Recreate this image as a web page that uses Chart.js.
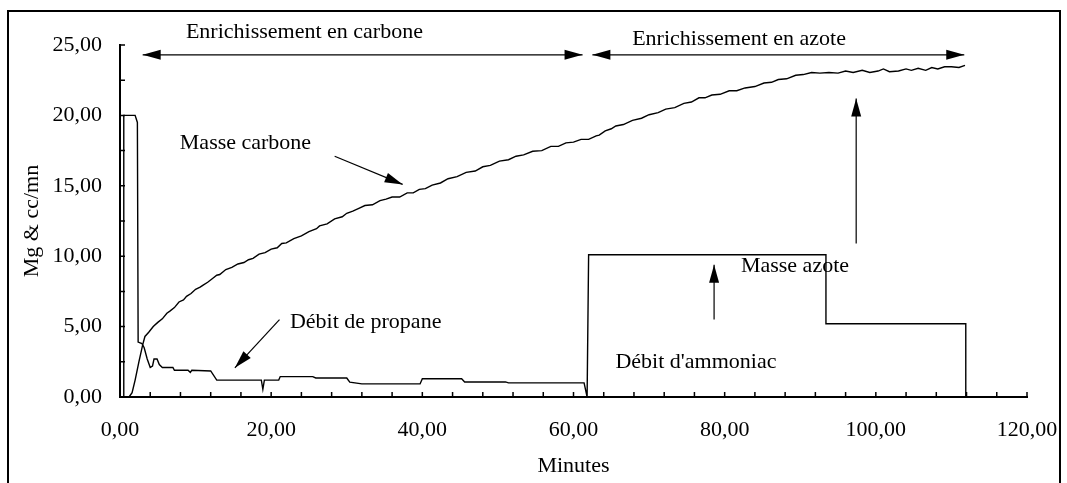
<!DOCTYPE html>
<html>
<head>
<meta charset="utf-8">
<script src="https://cdn.jsdelivr.net/npm/chart.js@4/dist/chart.umd.min.js"></script>
<style>
  html, body { margin: 0; padding: 0; background: #fff; }
  #wrap { width: 1067px; height: 483px; }
</style>
</head>
<body>
<div id="wrap"><canvas id="chart"></canvas></div>
<script>
// Masse carbone (mg) vs minutes
const carbonX = [1.2, 1.6, 2.0, 2.5, 3.0, 3.3, 3.8, 4.4, 5.0, 5.6, 6.2, 6.6, 7.2, 7.8, 8.4, 8.8, 9.4, 10.0, 10.6, 11.0,
  11.6, 12.2, 12.8, 13.2, 14.0, 14.8, 15.6, 16.4, 17.0, 17.6, 18.4, 19.2, 20.0, 20.8, 21.4, 22.0, 23.0, 24.0, 25.0, 26.0,
  26.4, 27.4, 28.4, 29.4, 30.0, 30.8, 31.6, 32.4, 33.4, 34.4, 35.2, 36.0, 37.0, 38.0, 38.8, 39.6, 40.4, 41.3, 42.4, 43.4,
  44.6, 45.8, 47.0, 48.0, 49.0, 50.2, 51.4, 52.4, 53.4, 54.6, 55.8, 57.0, 58.0, 59.0, 60.0, 61.0, 62.0, 63.0, 63.4, 64.2,
  65.0, 65.6, 66.6, 67.8, 69.0, 70.0, 71.2, 72.2, 73.4, 74.6, 75.6, 76.6, 77.4, 78.3, 79.4, 80.6, 81.6, 82.7, 84.0, 85.2,
  86.2, 87.1, 88.2, 89.4, 90.4, 91.5, 92.6, 93.8, 95.0, 96.0, 97.0, 98.2, 99.2, 100.3, 101.0, 101.8, 103.0, 104.0, 104.7, 105.6,
  106.6, 107.4, 108.2, 109.1, 110.0, 111.0, 111.8];
const carbonY = [0, 0.3, 1.2, 2.5, 3.7, 4.3, 4.6, 5.0, 5.3, 5.55, 5.95, 6.1, 6.35, 6.75, 6.9, 7.15, 7.35, 7.65, 7.8, 7.95,
  8.15, 8.4, 8.65, 8.7, 9.05, 9.2, 9.45, 9.55, 9.75, 9.85, 10.15, 10.25, 10.5, 10.6, 10.9, 10.95, 11.25, 11.45, 11.75, 11.95,
  12.15, 12.3, 12.65, 12.8, 13.05, 13.2, 13.4, 13.6, 13.65, 13.95, 14.05, 14.2, 14.2, 14.5, 14.5, 14.75, 14.8, 15.05, 15.2, 15.5,
  15.65, 15.95, 16.05, 16.35, 16.45, 16.75, 16.85, 17.1, 17.2, 17.45, 17.5, 17.8, 17.8, 18.05, 18.1, 18.3, 18.3, 18.55, 18.6, 18.9,
  19.05, 19.25, 19.35, 19.65, 19.8, 20.05, 20.2, 20.45, 20.55, 20.85, 20.95, 21.25, 21.25, 21.45, 21.5, 21.75, 21.75, 21.95, 22.05, 22.3,
  22.35, 22.55, 22.6, 22.85, 22.9, 23.05, 23.0, 23.05, 23.0, 23.15, 23.05, 23.2, 23.05, 23.15, 23.3, 23.1, 23.15, 23.3, 23.2, 23.35,
  23.2, 23.4, 23.3, 23.45, 23.45, 23.4, 23.55];

// Débit de propane puis débit d'ammoniac (cc/mn) vs minutes
const debitX = [0.4, 0.5, 2.0, 2.3, 2.4, 2.9, 3.2, 3.6, 4.0, 4.3, 4.5, 4.9, 5.2, 5.6, 7.0, 7.2, 9.0, 9.3, 9.5, 12.0,
  12.8, 18.7, 18.9, 19.1, 21.0, 21.2, 25.5, 25.9, 30.0, 30.4, 32.0, 39.7, 40.0, 45.2, 45.6, 51.0, 51.4, 61.4, 61.8, 62.0,
  93.4, 93.4, 111.9, 111.9];
const debitY = [0, 20, 20, 19.5, 3.9, 3.8, 3.5, 2.7, 2.1, 2.2, 2.7, 2.7, 2.3, 2.1, 2.1, 1.9, 1.9, 1.75, 1.9, 1.85,
  1.2, 1.2, 0.55, 1.2, 1.2, 1.45, 1.45, 1.35, 1.35, 1.05, 0.93, 0.93, 1.3, 1.3, 1.07, 1.07, 1.0, 1.0, 0, 10.1,
  10.1, 5.2, 5.2, 0];

const xMin = 0, xMax = 120, xStep = 20, xMinor = 4;
const yMin = 0, yMax = 25, yStep = 5, yMinor = 2.5;

// annotation texts and arrows, in data units
const labels = [
  { text: 'Enrichissement en carbone', x: 24.4, y: 25.9 },
  { text: 'Enrichissement en azote', x: 81.9, y: 25.4 },
  { text: 'Masse carbone', x: 16.6, y: 18.0 },
  { text: 'Débit de propane', x: 32.5, y: 5.3 },
  { text: "Débit d'ammoniac", x: 76.2, y: 2.5 },
  { text: 'Masse azote', x: 89.3, y: 9.3 }
];
const arrows = [
  { x1: 28.4, y1: 17.1, x2: 37.4, y2: 15.1, both: false },
  { x1: 21.1, y1: 5.5, x2: 15.2, y2: 2.07, both: false },
  { x1: 97.4, y1: 10.9, x2: 97.4, y2: 21.2, both: false },
  { x1: 78.6, y1: 5.5, x2: 78.6, y2: 9.4, both: false },
  { x1: 3.0, y1: 24.3, x2: 61.2, y2: 24.3, both: true },
  { x1: 62.5, y1: 24.3, x2: 111.7, y2: 24.3, both: true }
];

const FONT = '"Liberation Serif", "Times New Roman", serif';
const fmt = v => v.toFixed(2).replace('.', ',');

function head(ctx, x1, y1, x2, y2) {
  const a = Math.atan2(y2 - y1, x2 - x1), L = 18, W = 5;
  ctx.beginPath();
  ctx.moveTo(x2, y2);
  ctx.lineTo(x2 - L * Math.cos(a) + W * Math.sin(a), y2 - L * Math.sin(a) - W * Math.cos(a));
  ctx.lineTo(x2 - L * Math.cos(a) - W * Math.sin(a), y2 - L * Math.sin(a) + W * Math.cos(a));
  ctx.closePath();
  ctx.fill();
}

const decor = {
  id: 'decor',
  beforeDraw(chart) {
    const ctx = chart.ctx;
    ctx.save();
    ctx.fillStyle = '#fff';
    ctx.fillRect(0, 0, chart.width, chart.height);
    ctx.strokeStyle = '#000';
    ctx.lineWidth = 2;
    ctx.strokeRect(8, 11, 1052, 480);
    ctx.restore();
  },
  afterDraw(chart) {
    const ctx = chart.ctx, xs = chart.scales.x, ys = chart.scales.y;
    const a = chart.chartArea;
    ctx.save();
    ctx.strokeStyle = '#000';
    ctx.fillStyle = '#000';
    ctx.lineWidth = 1.5;
    // inward tick marks
    ctx.beginPath();
    for (let v = xMin; v <= xMax + 0.001; v += xMinor) {
      const px = xs.getPixelForValue(v);
      ctx.moveTo(px, a.bottom);
      ctx.lineTo(px, a.bottom - 5);
    }
    for (let v = yMin; v <= yMax + 0.001; v += yMinor) {
      const py = ys.getPixelForValue(v);
      ctx.moveTo(a.left, py);
      ctx.lineTo(a.left + 5, py);
    }
    ctx.stroke();
    // arrows
    ctx.lineWidth = 1.2;
    arrows.forEach(r => {
      const x1 = xs.getPixelForValue(r.x1), y1 = ys.getPixelForValue(r.y1);
      const x2 = xs.getPixelForValue(r.x2), y2 = ys.getPixelForValue(r.y2);
      ctx.beginPath();
      ctx.moveTo(x1, y1);
      ctx.lineTo(x2, y2);
      ctx.stroke();
      head(ctx, x1, y1, x2, y2);
      if (r.both) head(ctx, x2, y2, x1, y1);
    });
    // texts
    ctx.font = '22px ' + FONT;
    ctx.textAlign = 'center';
    ctx.textBaseline = 'middle';
    labels.forEach(l => {
      ctx.fillText(l.text, xs.getPixelForValue(l.x), ys.getPixelForValue(l.y));
    });
    ctx.restore();
  }
};

const ctx = document.getElementById('chart').getContext('2d');
new Chart(ctx, {
  type: 'scatter',
  data: {
    datasets: [
      {
        label: 'Masse carbone',
        data: carbonX.map((x, i) => ({ x: x, y: carbonY[i] })),
        showLine: true,
        borderColor: '#000',
        borderWidth: 1.4,
        pointRadius: 0,
        tension: 0
      },
      {
        label: 'Débit',
        data: debitX.map((x, i) => ({ x: x, y: debitY[i] })),
        showLine: true,
        borderColor: '#000',
        borderWidth: 1.4,
        pointRadius: 0,
        tension: 0
      }
    ]
  },
  options: {
    responsive: true,
    maintainAspectRatio: false,
    animation: false,
    layout: { padding: { left: 10, top: 45, right: 40, bottom: 0 } },
    plugins: {
      legend: { display: false },
      tooltip: { enabled: false }
    },
    scales: {
      x: {
        type: 'linear',
        min: xMin,
        max: xMax,
        ticks: {
          stepSize: xStep,
          color: '#000',
          font: { family: FONT, size: 22 },
          padding: 20,
          maxRotation: 0,
          callback: v => fmt(v)
        },
        grid: { display: false, drawTicks: false },
        border: { display: true, color: '#000', width: 2 },
        title: {
          display: true,
          text: 'Minutes',
          color: '#000',
          font: { family: FONT, size: 22 },
          padding: { top: 6, bottom: 4 }
        },
        afterFit: s => { s.height = 86; s.paddingLeft = 0; s.paddingRight = 0; }
      },
      y: {
        type: 'linear',
        min: yMin,
        max: yMax,
        ticks: {
          stepSize: yStep,
          color: '#000',
          font: { family: FONT, size: 22 },
          padding: 18,
          callback: v => fmt(v)
        },
        grid: { display: false, drawTicks: false },
        border: { display: true, color: '#000', width: 2 },
        title: {
          display: true,
          text: 'Mg & cc/mn',
          color: '#000',
          font: { family: FONT, size: 22 },
          padding: { top: 9, bottom: 4 }
        },
        afterFit: s => { s.width = 110; }
      }
    }
  },
  plugins: [decor]
});
</script>
</body>
</html>
